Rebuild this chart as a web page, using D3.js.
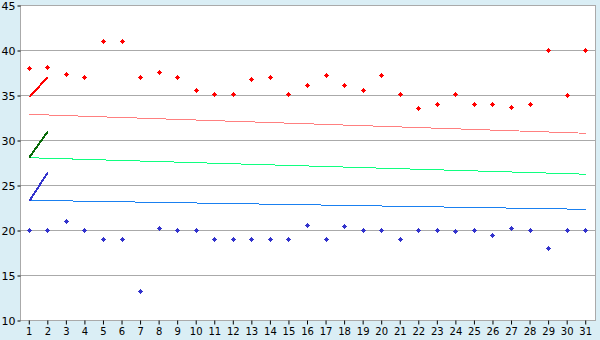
<!DOCTYPE html>
<html>
<head>
<meta charset="utf-8">
<script src="https://cdn.jsdelivr.net/npm/d3@7"></script>
<style>
  body { margin: 0; background: #daeef5; }
  svg { display: block; }
  text { font-family: "DejaVu Sans", Verdana, sans-serif; fill: #000; }
</style>
</head>
<body>
<div id="chart"></div>
<script>
const WIDTH = 600;
const HEIGHT = 340;

// chart values
const days = [1, 2, 3, 4, 5, 6, 7, 8, 9, 10, 11, 12, 13, 14, 15, 16,
              17, 18, 19, 20, 21, 22, 23, 24, 25, 26, 27, 28, 29, 30, 31];
const highValues = [37.9, 38, 37.3, 37, 40.9, 40.9, 37, 37.5, 37, 35.5, 35, 35, 36.7, 37, 35, 36.1,
                    37.2, 36.1, 35.5, 37.2, 35, 33.5, 34, 35, 34, 34, 33.6, 34, 39.9, 34.9, 39.9];
const lowValues = [20, 20, 21, 20, 19, 19, 13.2, 20.2, 20, 20, 19, 19, 19, 19, 19, 20.5,
                   19, 20.4, 20, 20, 19, 20, 20, 19.85, 20, 19.4, 20.2, 20, 18, 20, 20];

// long lines (first and last day)
const trendDays = [1, 31];
const trendHigh = [32.85, 30.75];
const trendMid = [28.03, 26.2];
const trendLow = [23.3, 22.3];

// short lines (day 1 to day 2)
const shortDays = [1, 2];
const shortHigh = [34.75, 37];
const shortMid = [28.05, 30.95];
const shortLow = [23.2, 26.4];

const yTicks = [10, 15, 20, 25, 30, 35, 40, 45];

const plotLeft = 20, plotRight = 595, plotTop = 5, plotBottom = 320;

var svg = d3.select("#chart")
    .append("svg")
    .attr("width", WIDTH)
    .attr("height", HEIGHT);

var x = d3.scaleBand().domain(days).range([plotLeft, plotRight]);
var y = d3.scaleLinear().domain([10, 45]).range([plotBottom, plotTop]);
var cx = d => x(d) + x.bandwidth() / 2;

// plot background
svg.append("rect")
    .attr("x", plotLeft).attr("y", plotTop)
    .attr("width", plotRight - plotLeft).attr("height", plotBottom - plotTop)
    .attr("fill", "#fff");

// gridlines
svg.append("g")
    .selectAll("line")
    .data(yTicks)
    .join("line")
    .attr("x1", plotLeft).attr("x2", plotRight)
    .attr("y1", d => Math.round(y(d)) + 0.5)
    .attr("y2", d => Math.round(y(d)) + 0.5)
    .attr("stroke", "#aaa");

// left and right border
svg.append("line")
    .attr("x1", plotLeft + 0.5).attr("x2", plotLeft + 0.5)
    .attr("y1", plotTop).attr("y2", plotBottom + 1)
    .attr("stroke", "#aaa");
svg.append("line")
    .attr("x1", plotRight + 0.5).attr("x2", plotRight + 0.5)
    .attr("y1", plotTop).attr("y2", plotBottom + 1)
    .attr("stroke", "#aaa");

// y axis
var yAxis = svg.append("g")
    .attr("transform", "translate(" + (plotLeft + 0.5) + ",0.5)")
    .call(d3.axisLeft(y).tickValues(yTicks).tickSize(3).tickPadding(2));
yAxis.select(".domain").remove();
yAxis.selectAll(".tick line").attr("stroke", "#000");
yAxis.selectAll("text").style("font-size", "11px").attr("dy", "0.36em");

// x axis
var xAxis = svg.append("g")
    .attr("transform", "translate(0," + (plotBottom + 0.5) + ")")
    .call(d3.axisBottom(x).tickSize(4).tickPadding(3));
xAxis.select(".domain").remove();
xAxis.selectAll(".tick line").attr("stroke", "#000");
xAxis.selectAll("text").style("font-size", "10px");

var line = d3.line().x(d => cx(d[0])).y(d => y(d[1]));

function drawLine(xs, ys, color, width) {
    svg.append("path")
        .datum(xs.map((d, i) => [d, ys[i]]))
        .attr("d", line)
        .attr("fill", "none")
        .attr("stroke", color)
        .attr("stroke-width", width)
        .attr("shape-rendering", "crispEdges");
}

drawLine(trendDays, trendHigh, "#ff8080", 1);
drawLine(trendDays, trendMid, "#10ff80", 1);
drawLine(trendDays, trendLow, "#1a80f0", 1);

drawLine(shortDays, shortHigh, "#ff0000", 2);
drawLine(shortDays, shortMid, "#086a08", 2);
drawLine(shortDays, shortLow, "#3333cc", 2);

// markers: small stepped diamond / plus
var marker = "M-0.5,-2.5H0.5V-1.5H1.5V-0.5H2.5V0.5H1.5V1.5H0.5V2.5H-0.5V1.5H-1.5V0.5H-2.5V-0.5H-1.5V-1.5H-0.5Z";

function drawPoints(values, color) {
    svg.append("g")
        .selectAll("path")
        .data(values)
        .join("path")
        .attr("d", marker)
        .attr("transform", (d, i) => "translate(" + (Math.floor(cx(days[i])) + 0.5) + "," + (Math.floor(y(d)) + 0.5) + ")")
        .attr("fill", color)
        .attr("shape-rendering", "crispEdges");
}

drawPoints(highValues, "#ff0000");
drawPoints(lowValues, "#3333cc");
</script>
</body>
</html>
